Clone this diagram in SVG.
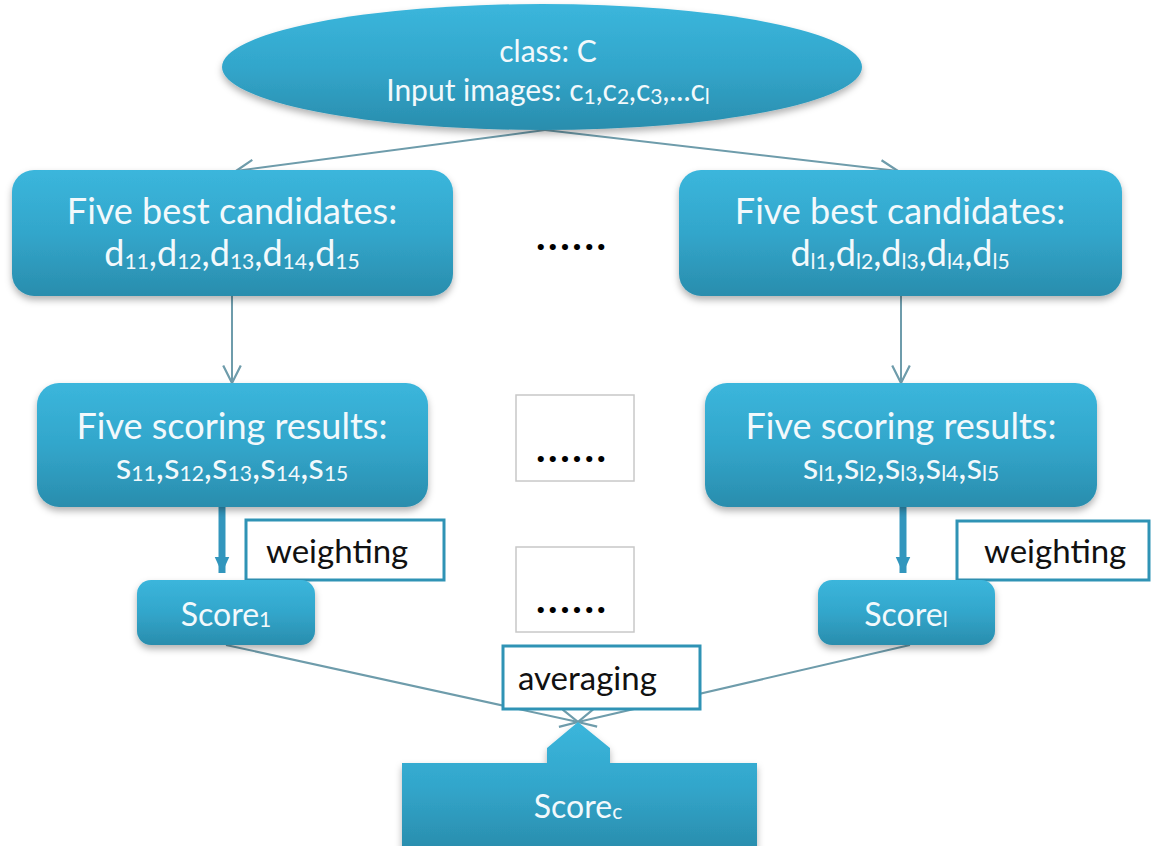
<svg xmlns="http://www.w3.org/2000/svg" width="1151" height="846" viewBox="0 0 1151 846">
  <style>
    .node { fill: url(#teal); filter: url(#shadow); }
    .label { font-family: Lato, "Open Sans", sans-serif; fill: #f2f9fc; text-anchor: middle; }
    .big { font-size: 36px; }
    .mid { font-size: 30px; }
    .sub { font-size: 21px; }
    .note { fill: #ffffff; stroke: #2f93b5; stroke-width: 3; }
    .noteText { font-family: Lato, "Open Sans", sans-serif; font-size: 33px; fill: #111111; }
    .blank { fill: #ffffff; stroke: #c8c8c8; stroke-width: 1.5; }
    .dots { font-family: Lato, "Open Sans", sans-serif; font-weight: bold; font-size: 40px; fill: #000000; letter-spacing: 2.6px; }
    .thin { stroke: #6e9cab; stroke-width: 2; fill: none; }
    .thick { stroke: #3296bd; stroke-width: 7; fill: none; }
  </style>
  <defs>
    <linearGradient id="teal" x1="0" y1="0" x2="0" y2="1">
      <stop offset="0" stop-color="#3bb6dc"/>
      <stop offset="0.5" stop-color="#32a6cb"/>
      <stop offset="1" stop-color="#2a8dad"/>
    </linearGradient>
    <filter id="shadow" x="-10%" y="-10%" width="120%" height="130%">
      <feDropShadow dx="0" dy="4" stdDeviation="3.5" flood-color="#000000" flood-opacity="0.3"/>
    </filter>
    <marker id="open" viewBox="0 0 20 20" refX="18" refY="10" markerWidth="22" markerHeight="22" markerUnits="userSpaceOnUse" orient="auto">
      <path d="M2,2 L18,10 L2,18" fill="none" stroke="#6e9cab" stroke-width="2"/>
    </marker>
    <marker id="solid" viewBox="0 0 24 20" refX="22" refY="10" markerWidth="18" markerHeight="20" markerUnits="userSpaceOnUse" orient="auto">
      <path d="M0,0 L22,10 L0,20 Z" fill="#3296bd"/>
    </marker>
  </defs>

  <!-- connectors -->
  <g id="connectors">
    <line class="thin" x1="545" y1="130" x2="236" y2="171" marker-end="url(#open)"/>
    <line class="thin" x1="545" y1="130" x2="898" y2="171" marker-end="url(#open)"/>
    <line class="thin" x1="232" y1="296" x2="232" y2="383" marker-end="url(#open)"/>
    <line class="thin" x1="901" y1="296" x2="901" y2="383" marker-end="url(#open)"/>
    <line class="thick" x1="222" y1="507" x2="222" y2="573" marker-end="url(#solid)"/>
    <line class="thick" x1="903" y1="507" x2="903" y2="573" marker-end="url(#solid)"/>
    <line class="thin" x1="226" y1="645" x2="578" y2="722" marker-end="url(#open)"/>
    <line class="thin" x1="910" y1="645" x2="578" y2="722" marker-end="url(#open)"/>
  </g>

  <!-- class node -->
  <g id="class-node">
    <ellipse class="node" cx="542" cy="67" rx="320" ry="63"/>
    <text class="label mid" x="548" y="62">class: C</text>
    <text class="label mid" x="548" y="101">Input images: c<tspan class="sub" dy="3">1</tspan><tspan dy="-3">,c</tspan><tspan class="sub" dy="3">2</tspan><tspan dy="-3">,c</tspan><tspan class="sub" dy="3">3</tspan><tspan dy="-3">,...c</tspan><tspan class="sub" dy="3">l</tspan></text>
  </g>

  <!-- candidate nodes -->
  <g id="candidates-1">
    <rect class="node" x="12" y="170" width="441" height="126" rx="22"/>
    <text class="label big" x="232" y="224">Five best candidates:</text>
    <text class="label big" x="232" y="266">d<tspan class="sub" dy="3">11</tspan><tspan dy="-3">,d</tspan><tspan class="sub" dy="3">12</tspan><tspan dy="-3">,d</tspan><tspan class="sub" dy="3">13</tspan><tspan dy="-3">,d</tspan><tspan class="sub" dy="3">14</tspan><tspan dy="-3">,d</tspan><tspan class="sub" dy="3">15</tspan></text>
  </g>
  <g id="candidates-l">
    <rect class="node" x="679" y="170" width="443" height="126" rx="22"/>
    <text class="label big" x="900" y="224">Five best candidates:</text>
    <text class="label big" x="900" y="266">d<tspan class="sub" dy="3">l1</tspan><tspan dy="-3">,d</tspan><tspan class="sub" dy="3">l2</tspan><tspan dy="-3">,d</tspan><tspan class="sub" dy="3">l3</tspan><tspan dy="-3">,d</tspan><tspan class="sub" dy="3">l4</tspan><tspan dy="-3">,d</tspan><tspan class="sub" dy="3">l5</tspan></text>
  </g>
  <g id="gap-1">
    <text class="dots" x="536" y="250">......</text>
  </g>

  <!-- scoring nodes -->
  <g id="scoring-1">
    <rect class="node" x="37" y="383" width="391" height="124" rx="22"/>
    <text class="label big" x="232" y="439">Five scoring results:</text>
    <text class="label big" x="232" y="479">s<tspan class="sub" dy="2">11</tspan><tspan dy="-2">,s</tspan><tspan class="sub" dy="2">12</tspan><tspan dy="-2">,s</tspan><tspan class="sub" dy="2">13</tspan><tspan dy="-2">,s</tspan><tspan class="sub" dy="2">14</tspan><tspan dy="-2">,s</tspan><tspan class="sub" dy="2">15</tspan></text>
  </g>
  <g id="scoring-l">
    <rect class="node" x="705" y="383" width="392" height="124" rx="22"/>
    <text class="label big" x="901" y="439">Five scoring results:</text>
    <text class="label big" x="901" y="479">s<tspan class="sub" dy="2">l1</tspan><tspan dy="-2">,s</tspan><tspan class="sub" dy="2">l2</tspan><tspan dy="-2">,s</tspan><tspan class="sub" dy="2">l3</tspan><tspan dy="-2">,s</tspan><tspan class="sub" dy="2">l4</tspan><tspan dy="-2">,s</tspan><tspan class="sub" dy="2">l5</tspan></text>
  </g>
  <g id="gap-2">
    <rect class="blank" x="516" y="395" width="118" height="86"/>
    <text class="dots" x="536" y="462">......</text>
  </g>

  <!-- weighting notes and per-image scores -->
  <g id="weighting-1">
    <rect class="note" x="246" y="520" width="198" height="60"/>
    <text class="noteText" x="266" y="563">weighting</text>
  </g>
  <g id="weighting-l">
    <rect class="note" x="957" y="521" width="192" height="59"/>
    <text class="noteText" x="984" y="563">weighting</text>
  </g>
  <g id="score-1">
    <rect class="node" x="137" y="580" width="178" height="65" rx="14"/>
    <text class="label" font-size="32" x="226" y="626">Score<tspan class="sub" dy="1">1</tspan></text>
  </g>
  <g id="score-l">
    <rect class="node" x="818" y="580" width="177" height="65" rx="14"/>
    <text class="label" font-size="32" x="906" y="626">Score<tspan class="sub" dy="1">l</tspan></text>
  </g>
  <g id="gap-3">
    <rect class="blank" x="516" y="547" width="118" height="85"/>
    <text class="dots" x="536" y="613">......</text>
  </g>

  <!-- averaging and final score -->
  <g id="averaging">
    <rect class="note" x="503" y="646" width="197" height="63"/>
    <text class="noteText" x="518" y="690">averaging</text>
  </g>
  <g id="score-c">
    <path class="node" d="M402,763 H547 V748 L578,722 L610,748 V763 H757 V850 H402 Z"/>
    <text class="label" font-size="32" x="578" y="818">Score<tspan class="sub" dy="1">c</tspan></text>
  </g>
</svg>
